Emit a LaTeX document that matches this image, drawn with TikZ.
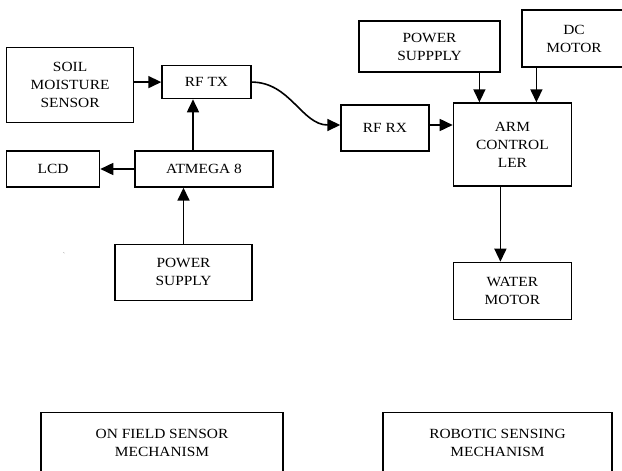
\documentclass[tikz,border=0pt]{standalone}
\usepackage{fontspec}
\setmainfont{Liberation Serif}[FakeStretch=1.1]
\usepackage{tikz}
\usetikzlibrary{positioning, arrows.meta}

\begin{document}
\begin{tikzpicture}[x=1pt, y=-1pt, node distance=30pt and 30pt,
    blk/.style={draw, line width=1.4pt, align=center, inner sep=0pt,
        font=\fontsize{14}{18}\selectfont},
    arr/.style={line width=1.6pt, -{Triangle[length=13pt, width=12pt]}}]
    \useasboundingbox (0,0) rectangle (622,471);
    \clip (0,0) rectangle (622,471);

    % Field side
    \node (atmega) [blk, minimum width=138pt, minimum height=36pt] at (204,169) {ATMEGA 8};
    \node (lcd) [blk, minimum width=93pt, minimum height=36pt, left=34pt of atmega] {LCD};
    \node (rftx) [blk, minimum width=89pt, minimum height=33pt, above=51pt of atmega, xshift=2.5pt] {RF TX};
    \node (soil) [blk, minimum width=127pt, minimum height=75pt, left=27pt of rftx, yshift=-3pt] {SOIL\\MOISTURE\\SENSOR};
    \node (pwrtx) [blk, minimum width=137pt, minimum height=56pt, below=56pt of atmega, xshift=-20.5pt] {POWER\\SUPPLY};
    \node (tick) at (64,255) {\tiny\textasciigrave};

    % Robot side
    \node (rfrx) [blk, minimum width=88pt, minimum height=46pt] at (385,128) {RF RX};
    \node (arm) [blk, minimum width=118pt, minimum height=83pt, right=23pt of rfrx, yshift=-16.5pt] {ARM\\CONTROL\\LER};
    \node (water) [blk, minimum width=118pt, minimum height=57pt, below=75pt of arm] {WATER\\MOTOR};
    \node (pwrrx) [blk, minimum width=141pt, minimum height=51pt] at (429.5,46.5) {POWER\\SUPPPLY};
    \node (dc) [blk, minimum width=104pt, minimum height=57pt, text width=98pt] at (574,38.5) {DC\\MOTOR};

    % Captions
    \node (field) [blk, minimum width=242pt, minimum height=60pt, anchor=north] at (162,412) {ON FIELD SENSOR\\MECHANISM};
    \node (robot) [blk, minimum width=229pt, minimum height=60pt, anchor=north] at (497.5,412) {ROBOTIC SENSING\\MECHANISM};

    % Edges
    \coordinate (armin1) at ([xshift=-33pt]arm.north);
    \coordinate (armin2) at ([xshift=24pt]arm.north);
    \coordinate (txin) at ([xshift=-11pt]atmega.north);
    \coordinate (armout) at ([xshift=-12pt]arm.south);
    \draw[arr] (soil.east |- rftx) -- (rftx.west);
    \draw[arr] (atmega) -- (lcd);
    \draw[arr] (txin) -- (txin |- rftx.south);
    \draw[arr] (pwrtx) -- (pwrtx |- atmega.south);
    \draw[arr] (rftx.east) to[out=0, in=180] ([yshift=3pt]rfrx.west);
    \draw[arr] ([yshift=3pt]rfrx.east) -- ([yshift=3pt]rfrx.east -| arm.west);
    \draw[arr] (armin1 |- pwrrx.south) -- (armin1);
    \draw[arr] (armin2 |- dc.south) -- (armin2);
    \draw[arr] (armout) -- (armout |- water.north);
\end{tikzpicture}
\end{document}
